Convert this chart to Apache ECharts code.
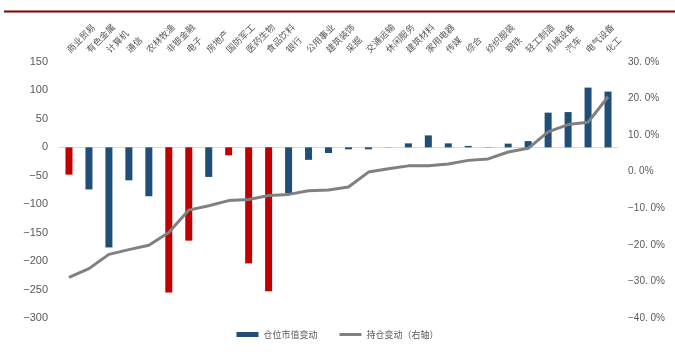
<!DOCTYPE html>
<html>
<head>
    <meta charset="utf-8">
    <title>仓位变动</title>
    <script src="https://cdn.jsdelivr.net/npm/echarts@6/dist/echarts.min.js"></script>
    <style>
        html, body { margin: 0; padding: 0; background: #fff; }
    </style>
</head>
<body>
<div id="main" style="width: 675px;height:352px;"></div>
<script>

// 行业（按持仓变动排序）
var categories = ['商业贸易', '有色金属', '计算机', '通信', '农林牧渔', '非银金融', '电子', '房地产',
    '国防军工', '医药生物', '食品饮料', '银行', '公用事业', '建筑装饰', '采掘', '交通运输',
    '休闲服务', '建筑材料', '家用电器', '传媒', '综合', '纺织服装', '钢铁', '轻工制造',
    '机械设备', '汽车', '电气设备', '化工'];

// 仓位市值变动（左轴）
var mvChange = [-48, -74, -176, -58, -86, -255, -164, -52,
    -14, -204, -253, -81, -22, -10, -3.5, -3.5,
    0.3, 7, 21, 7, 2.5, 0.5, 6.5, 11,
    61, 62, 105, 98];

// 持仓变动（右轴，%）
var posChange = [-28.9, -26.5, -22.6, -21.3, -20.1, -16.6, -10.5, -9.3,
    -7.9, -7.6, -6.5, -6.2, -5.2, -5.0, -4.2, -0.1,
    0.8, 1.6, 1.6, 2.1, 3.1, 3.5, 5.4, 6.4,
    10.9, 12.9, 13.5, 20.5];

// 红色标出的行业
var redSectors = ['商业贸易', '非银金融', '电子', '国防军工', '医药生物', '食品饮料'];

var BLUE = '#1F4E79';
var RED = '#C00000';
var GREY_TXT = '#595959';
var FONT = '"Noto Sans CJK SC", sans-serif';
var Y_MAX = 150;

var barData = mvChange.map(function (v, i) {
    return {
        value: v,
        itemStyle: { color: redSectors.indexOf(categories[i]) >= 0 ? RED : BLUE }
    };
});

// 顶部斜排的行业名，位置取自类目轴
function renderTopLabel(params, api) {
    var p = api.coord([api.value(0), Y_MAX]);
    return {
        type: 'text',
        x: p[0] - 1,
        y: p[1] - 11,
        rotation: Math.PI / 4,
        style: {
            text: categories[api.value(0)],
            fill: GREY_TXT,
            font: '9px ' + FONT,
            align: 'left',
            verticalAlign: 'middle'
        }
    };
}

var option = {
    animation: false,
    textStyle: { fontFamily: FONT },
    graphic: [{
        type: 'rect',
        shape: { x: 4, y: 10.5, width: 671, height: 2 },
        style: { fill: '#7F0000' },
        silent: true
    }],
    grid: { left: 59, right: 57, top: 62, bottom: 34 },
    legend: {
        bottom: 8,
        left: 'center',
        itemWidth: 22,
        itemHeight: 5,
        itemGap: 22,
        textStyle: { color: GREY_TXT, fontSize: 9, fontFamily: FONT },
        data: [
            { name: '仓位市值变动', icon: 'rect' },
            { name: '持仓变动（右轴）', icon: 'path://M0,0H22V3H0Z' }
        ]
    },
    xAxis: {
        type: 'category',
        data: categories,
        axisLine: { onZero: true, lineStyle: { color: '#D9D9D9', width: 1 } },
        axisTick: { show: false },
        axisLabel: { show: false }
    },
    yAxis: [
        {
            type: 'value',
            min: -300,
            max: Y_MAX,
            interval: 50,
            splitLine: { show: false },
            axisLine: { show: false },
            axisTick: { show: false },
            axisLabel: {
                margin: 11,
                color: GREY_TXT,
                fontSize: 11,
                fontFamily: 'Arial, "Liberation Sans", sans-serif',
                formatter: function (v) { return String(v).replace('-', '\u2212'); }
            }
        },
        {
            type: 'value',
            min: -40,
            max: 30,
            interval: 10,
            splitLine: { show: false },
            axisLine: { show: false },
            axisTick: { show: false },
            axisLabel: {
                margin: 10,
                color: GREY_TXT,
                fontSize: 10,
                fontFamily: 'Arial, "Liberation Sans", sans-serif',
                formatter: function (v) { return v.toFixed(1).replace('-', '\u2212').replace('.', '. ') + '%'; }
            }
        }
    ],
    series: [
        {
            name: '仓位市值变动',
            type: 'bar',
            yAxisIndex: 0,
            barWidth: 7,
            itemStyle: { color: BLUE },
            data: barData
        },
        {
            name: '持仓变动（右轴）',
            type: 'line',
            yAxisIndex: 1,
            symbol: 'none',
            lineStyle: { color: '#808080', width: 3 },
            itemStyle: { color: '#808080' },
            data: posChange
        },
        {
            name: 'labels',
            type: 'custom',
            yAxisIndex: 0,
            silent: true,
            clip: false,
            renderItem: renderTopLabel,
            data: categories.map(function (c, i) { return [i]; })
        }
    ]
};

var myChart = echarts.init(document.getElementById('main'));
myChart.setOption(option);

</script>
</body>
</html>
